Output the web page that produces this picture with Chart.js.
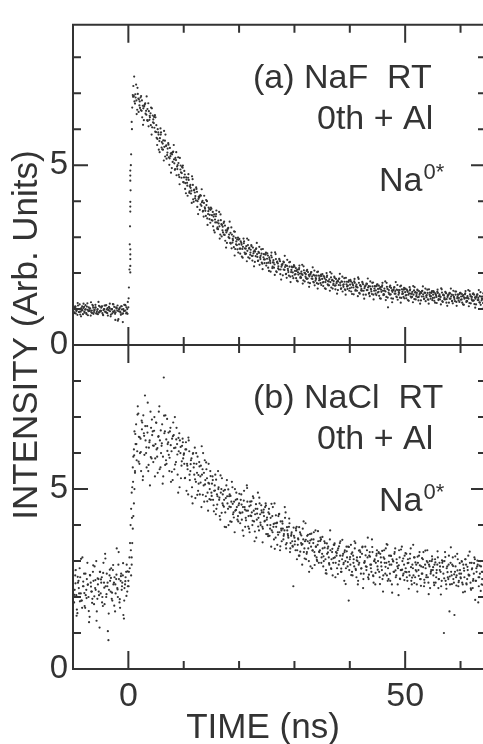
<!DOCTYPE html>
<html>
<head>
<meta charset="utf-8">
<script src="https://cdn.jsdelivr.net/npm/chart.js@4.4.1/dist/chart.umd.min.js"></script>
<style>
  html, body { margin: 0; padding: 0; background: #fff; overflow: hidden; }
  #wrap { width: 495px; height: 744px; }
</style>
</head>
<body>
<div id="wrap"><canvas id="chart"></canvas></div>
<script>
// three interleaved sweeps per panel: first channel (ns) of each and the channel width
const sweepStarts = [-10, -9.9, -9.95];
const timeStep = 0.2;

// (a) NaF RT, 0th + Al, Na0* intensity per channel
const nafSweep1 = [
  1.02,0.9,1.08,0.95,0.84,1.0,1.13,0.93,0.97,0.86,1.06,0.99,0.89,1.16,0.94,1.01,0.82,0.96,1.09,0.92,1.04,0.88,0.98,1.2,0.91,
  0.95,1.07,0.85,1.0,0.93,1.11,0.89,0.97,1.03,0.8,0.99,1.14,0.92,0.87,1.05,0.96,0.72,1.01,0.9,1.08,0.64,0.95,1.12,0.88,1.0,
  1.05,2.1,4.3,6.2,6.95,6.92,6.71,7.24,6.54,6.85,6.66,6.88,6.51,6.65,6.25,6.70,6.51,6.25,6.72,6.26,6.44,5.85,6.38,6.17,6.39,
  5.92,5.56,5.91,5.67,6.02,5.49,5.60,5.13,5.68,5.53,5.28,5.61,5.01,5.25,5.34,5.09,5.56,4.87,5.14,4.96,5.22,4.67,4.88,4.65,4.93,
  4.52,4.74,4.22,4.51,4.65,4.23,4.45,4.29,4.61,3.98,4.24,4.02,4.26,3.64,4.10,4.17,3.87,4.01,3.57,3.83,3.59,4.00,3.64,3.78,3.40,
  3.79,3.46,3.57,3.13,3.58,3.41,3.22,3.70,3.07,3.36,3.19,3.39,3.06,3.19,2.84,3.24,3.07,2.84,3.27,2.85,3.02,2.49,2.98,2.78,2.99,
  2.80,2.54,2.84,2.67,2.96,2.57,2.68,2.33,2.78,2.68,2.51,2.78,2.35,2.55,2.63,2.47,2.84,2.34,2.56,2.44,2.66,2.26,2.44,2.28,2.52,
  2.28,2.49,2.06,2.34,2.49,2.14,2.36,2.24,2.53,2.03,2.27,2.10,2.33,1.82,2.23,2.32,2.09,2.22,1.87,2.12,1.93,2.31,2.03,2.16,1.86,
  2.19,1.97,2.06,1.77,2.10,1.99,1.87,2.23,1.80,2.01,1.90,2.06,1.85,1.95,1.72,2.02,1.91,1.76,2.07,1.79,1.93,1.57,1.93,1.81,1.96,
  1.84,1.64,1.89,1.75,2.00,1.69,1.77,1.51,1.88,1.80,1.67,1.90,1.55,1.72,1.79,1.67,1.98,1.56,1.76,1.67,1.86,1.53,1.69,1.56,1.76,
  1.58,1.77,1.42,1.66,1.77,1.51,1.68,1.60,1.84,1.43,1.63,1.51,1.69,1.29,1.64,1.71,1.53,1.64,1.36,1.56,1.42,1.74,1.51,1.63,1.39,
  1.69,1.48,1.57,1.29,1.62,1.51,1.40,1.77,1.34,1.56,1.46,1.62,1.41,1.52,1.29,1.60,1.50,1.35,1.67,1.40,1.53,1.18,1.55,1.43,1.59,
  1.47,1.30,1.51,1.40,1.61,1.35,1.43,1.19,1.52,1.46,1.35,1.54,1.24,1.40,1.47,1.35,1.63,1.28,1.45,1.37,1.54,1.26,1.40,1.29,1.47,
  1.31,1.47,1.18,1.38,1.48,1.25,1.41,1.34,1.55,1.20,1.38,1.27,1.44,1.09,1.39,1.45,1.29,1.40,1.16,1.34,1.22,1.49,1.30,1.40,1.20,
  1.45,1.27,1.36,1.12,1.41,1.31,1.22,1.53,1.17,1.36,1.28,1.42,1.24,1.33,1.13,1.40,1.31,1.19,1.47,1.24,1.35,1.05,1.36,1.27,1.41
];
const nafSweep2 = [
  0.94,1.05,0.88,1.0,1.1,0.92,0.85,1.03,0.97,1.15,0.9,0.99,1.07,0.83,0.96,1.02,0.91,1.12,0.87,0.98,1.05,0.93,0.86,1.09,0.95,
  1.04,0.89,0.97,1.1,0.92,0.99,0.82,1.06,0.94,1.0,0.88,1.13,0.96,0.91,1.03,0.68,0.99,0.93,1.08,0.87,1.0,0.95,1.1,0.9,1.2,
  1.6,3.3,5.3,6.6,7.2,6.77,6.88,6.42,6.98,6.83,6.59,6.92,6.33,6.58,6.67,6.43,6.91,6.23,6.50,6.33,6.60,6.05,6.27,6.04,6.33,
  5.76,6.00,5.43,5.75,5.91,5.44,5.69,5.51,5.85,5.18,5.46,5.22,5.48,4.79,5.30,5.38,5.05,5.20,4.72,5.00,4.73,5.20,4.80,4.95,4.53,
  4.84,4.50,4.60,4.15,4.59,4.41,4.21,4.69,4.05,4.32,4.14,4.34,4.00,4.12,3.76,4.15,3.97,3.73,4.15,3.73,3.89,3.34,3.82,3.62,3.82,
  3.61,3.30,3.63,3.41,3.74,3.27,3.38,2.96,3.47,3.34,3.13,3.43,2.90,3.13,3.22,3.00,3.43,2.82,3.07,2.91,3.16,2.67,2.88,2.66,2.93,
  2.68,2.88,2.46,2.73,2.88,2.53,2.75,2.62,2.92,2.41,2.65,2.48,2.71,2.19,2.60,2.69,2.45,2.59,2.23,2.48,2.29,2.67,2.38,2.52,2.21,
  2.55,2.29,2.39,2.04,2.44,2.30,2.15,2.58,2.05,2.32,2.19,2.37,2.10,2.23,1.94,2.30,2.17,1.98,2.37,2.03,2.18,1.75,2.18,2.02,2.22,
  2.06,1.86,2.10,1.96,2.21,1.90,1.98,1.71,2.08,2.00,1.86,2.09,1.74,1.91,1.98,1.85,2.16,1.74,1.93,1.84,2.03,1.70,1.86,1.72,1.92,
  1.74,1.92,1.58,1.81,1.93,1.66,1.83,1.75,1.99,1.57,1.78,1.65,1.84,1.43,1.77,1.85,1.66,1.77,1.49,1.69,1.55,1.87,1.63,1.76,1.51,
  1.81,1.60,1.69,1.41,1.73,1.63,1.51,1.88,1.45,1.67,1.56,1.73,1.51,1.62,1.40,1.70,1.60,1.45,1.77,1.49,1.63,1.27,1.64,1.52,1.68,
  1.56,1.37,1.61,1.48,1.73,1.42,1.51,1.25,1.62,1.05,1.42,1.65,1.30,1.48,1.55,1.43,1.75,1.33,1.53,1.45,1.63,1.31,1.48,1.34,1.55,
  1.38,1.54,1.25,1.44,1.55,1.32,1.48,1.40,1.61,1.27,1.45,1.33,1.50,1.15,1.45,1.51,1.35,1.46,1.22,1.39,1.27,1.55,1.36,1.45,1.25,
  1.50,1.32,1.41,1.17,1.45,1.36,1.27,1.58,1.22,1.40,1.32,1.46,1.28,1.38,1.18,1.44,1.35,1.23,1.51,1.28,1.40,1.09,1.40,1.31,1.45,
  1.35,1.18,1.39,1.29,1.50,1.23,1.31,1.08,1.41,1.35,1.24,1.44,1.14,1.29,1.36,1.25,1.53,1.18,1.35,1.28,1.44,1.16,1.30,1.20,1.38
];
const nafSweep3 = [
  1.01,0.89,1.06,0.96,1.17,0.92,0.99,0.8,1.08,1.03,0.93,1.11,0.86,0.98,1.05,0.95,1.19,0.89,1.04,0.97,1.12,0.88,1.0,0.91,1.07,
  0.95,1.08,0.83,1.0,1.1,0.9,1.03,0.97,1.15,0.85,1.0,0.93,1.06,0.7,1.02,1.1,0.94,1.04,0.84,0.99,0.88,1.12,0.96,1.05,0.87,
  1.3,2.8,5.0,6.0,6.9,7.46,6.97,6.80,7.15,6.48,6.77,6.53,6.80,6.12,6.63,6.72,6.40,6.56,6.08,6.37,6.11,6.58,6.19,6.34,5.93,
  6.11,5.73,5.85,5.36,5.85,5.64,5.43,5.95,5.24,5.55,5.35,5.57,5.19,5.32,4.92,5.36,5.16,4.89,5.36,4.89,5.06,4.47,4.99,4.78,4.99,
  4.66,4.34,4.66,4.43,4.75,4.27,4.37,3.95,4.45,4.30,4.08,4.38,3.84,4.06,4.14,3.91,4.33,3.71,3.95,3.79,4.03,3.52,3.72,3.50,3.76,
  3.47,3.70,3.19,3.49,3.64,3.23,3.46,3.30,3.63,3.02,3.29,3.07,3.32,2.71,3.18,3.26,2.97,3.12,2.69,2.95,2.72,3.15,2.80,2.94,2.57,
  2.95,2.68,2.79,2.43,2.83,2.69,2.54,2.96,2.44,2.70,2.57,2.75,2.48,2.60,2.31,2.67,2.53,2.35,2.73,2.39,2.54,2.11,2.53,2.38,2.57,
  2.40,2.15,2.44,2.28,2.57,2.18,2.29,1.95,2.39,2.30,2.13,2.40,1.97,2.18,2.26,2.10,2.48,1.97,2.20,2.08,2.30,1.90,2.09,1.92,2.17,
  1.96,2.14,1.79,2.02,2.14,1.87,2.04,1.95,2.19,1.77,1.97,1.84,2.03,1.62,1.96,2.03,1.84,1.95,1.66,1.86,1.72,2.04,1.80,1.92,1.67,
  1.97,1.75,1.85,1.56,1.89,1.78,1.66,2.03,1.60,1.81,1.71,1.87,1.66,1.76,1.53,1.84,1.73,1.58,1.90,1.62,1.76,1.40,1.76,1.65,1.80,
  1.68,1.49,1.73,1.60,1.84,1.54,1.62,1.36,1.73,1.66,1.52,1.76,1.40,1.58,1.66,1.53,1.85,1.43,1.63,1.54,1.73,1.40,1.57,1.43,1.64,
  1.46,1.65,1.30,1.54,1.66,1.39,1.57,1.49,1.73,1.32,1.53,1.40,1.59,1.19,1.53,1.61,1.43,1.54,1.26,1.47,1.32,1.65,1.42,1.54,1.30,
  1.57,1.39,1.48,1.23,1.52,1.43,1.34,1.64,1.28,1.47,1.39,1.52,1.34,1.44,1.24,1.50,1.41,1.29,1.57,1.33,1.45,1.15,1.46,1.36,1.50,
  1.40,1.23,1.44,1.34,1.54,1.28,1.36,1.13,1.46,1.39,1.28,1.48,1.18,1.34,1.41,1.29,1.57,1.22,1.39,1.32,1.49,1.20,1.34,1.24,1.42,
  1.26,1.42,1.13,1.33,1.44,1.20,1.36,1.29,1.50,1.16,1.34,1.23,1.40,1.04,1.34,1.41,1.25,1.36,1.12,1.30,1.17,1.45,1.26,1.36,1.16
];
// extra counts stacked on the rising edge of (a)
const nafRiseTimes  = [0.35, 0.35, 0.35, 0.35, 0.35, 0.35, 0.35, 0.35, 0.35, 0.35, 0.35];
const nafRiseValues = [4.85, 4.71, 4.57, 3.98, 3.85, 3.71, 2.66, 2.52, 2.39, 2.2, 2.02];

// (b) NaCl RT, 0th + Al, Na0* intensity per channel
const naclSweep1 = [
  2.35,1.85,2.6,2.05,1.55,2.45,2.8,2.1,1.9,2.3,2.65,1.7,2.2,2.95,2.0,1.45,2.4,2.15,2.7,1.8,2.25,3.0,1.95,2.5,1.15,
  2.1,2.55,1.75,2.4,3.2,2.0,2.3,0.8,2.6,2.15,1.95,2.75,2.4,1.6,2.5,2.25,2.9,1.85,2.45,2.2,2.6,1.4,2.35,2.7,2.15,
  2.45,3.1,4.0,4.9,5.6,6.1,5.45,6.8,6.05,7.1,5.7,6.4,6.9,5.25,6.55,7.6,6.0,6.75,5.5,6.3,7.15,5.85,6.6,6.2,5.35,
  6.85,5.9,6.45,7.3,5.6,6.2,5.15,8.1,6.6,5.8,6.95,6.3,5.5,6.7,6.05,5.25,6.5,7.0,5.75,6.25,4.9,6.55,6.0,5.65,6.4,
  5.95,5.3,6.3,5.7,4.85,6.05,5.5,5.85,4.6,5.6,6.15,5.2,5.45,4.95,5.75,5.35,4.5,5.55,5.1,5.8,4.8,5.3,4.4,5.15,5.5,
  4.9,5.35,4.55,5.1,4.3,4.85,5.5,4.7,4.15,5.0,4.6,4.95,3.95,4.75,5.25,4.45,4.8,4.1,4.65,5.05,4.35,3.8,4.7,4.5,4.25,
  4.6,4.05,4.85,4.35,3.7,4.5,4.2,5.1,4.4,3.9,4.65,4.25,4.0,4.75,3.55,4.45,4.15,4.9,3.85,4.3,4.55,3.95,4.35,4.1,4.6,
  4.15,3.75,4.45,3.9,3.4,4.25,3.95,4.6,3.65,4.05,3.8,4.3,3.3,3.9,4.1,3.6,3.85,4.35,3.5,3.75,3.95,3.25,3.7,3.55,2.3,
  3.65,3.3,3.95,3.45,3.15,3.8,3.5,2.9,3.6,3.35,4.05,3.2,3.55,3.0,3.75,3.4,2.8,3.5,3.25,3.85,3.1,3.45,2.95,3.3,3.6,
  3.2,2.85,3.55,3.05,2.65,3.35,3.1,3.6,2.8,3.25,2.95,3.45,2.55,3.15,3.3,2.9,3.5,2.7,3.05,3.2,2.45,3.0,3.4,2.85,1.9,
  3.05,3.45,2.7,3.15,2.85,3.5,2.55,3.0,2.9,3.3,2.65,3.2,2.25,2.95,3.4,2.75,3.1,2.5,3.25,2.8,3.6,2.6,3.0,2.35,3.15,
  2.85,3.25,2.55,3.1,2.75,2.15,3.3,2.65,2.95,3.45,2.5,2.9,3.15,2.35,3.0,2.7,3.35,2.6,2.85,2.05,3.1,2.75,3.4,2.6,2.9,
  2.7,3.2,2.45,2.95,2.6,3.35,2.35,2.8,3.1,2.55,2.9,2.15,2.75,3.25,2.5,2.65,3.05,2.3,2.9,2.55,3.3,2.4,2.85,2.65,3.0,
  2.75,2.4,3.05,2.55,2.9,2.25,2.95,2.7,2.45,3.0,1.0,3.25,2.35,2.85,2.5,1.6,2.95,2.6,3.1,2.4,2.7,2.55,3.2,2.3,2.65,
  2.55,3.0,2.35,2.8,2.15,2.9,2.5,3.15,2.6,2.4,2.95,2.25,2.65,3.05,2.45,2.85,1.85,2.55,3.0,2.35,2.7,2.5,3.1,2.3,2.75
];
const naclSweep2 = [
  2.0,2.2,2.75,1.65,2.4,2.1,2.55,1.9,3.1,2.3,1.75,2.05,2.5,2.35,1.3,2.6,2.15,1.95,2.45,2.85,2.2,1.6,2.35,2.05,2.7,
  2.4,2.0,2.95,1.8,2.3,2.65,1.05,2.2,2.45,2.8,1.9,2.35,2.55,2.1,3.35,2.0,2.5,1.7,2.65,2.4,1.5,2.25,2.55,2.9,2.3,
  2.7,3.5,4.45,5.05,5.9,6.6,6.25,5.8,7.3,6.45,6.0,5.5,6.85,7.05,5.95,6.35,5.6,7.4,6.15,5.1,6.7,6.5,5.75,7.0,6.25,
  6.1,5.45,7.15,6.35,6.0,6.8,5.35,6.55,7.05,5.7,6.25,5.95,6.6,5.2,6.4,6.85,5.55,6.15,6.7,5.4,6.05,6.35,5.3,6.2,5.85,
  5.7,6.1,4.95,5.55,6.35,5.25,5.8,5.05,6.0,5.4,4.75,5.7,5.9,5.15,4.85,5.65,5.4,6.0,4.65,5.25,5.55,4.9,5.7,5.0,4.7,
  5.15,4.7,4.95,5.4,4.45,4.8,5.05,4.25,4.9,5.3,4.55,4.7,4.35,5.1,4.6,4.0,4.85,4.5,5.2,4.3,4.65,4.4,4.9,4.15,4.55,
  4.35,4.7,4.15,4.5,4.95,3.95,4.4,4.65,4.25,3.8,4.55,4.35,4.8,4.1,4.3,3.65,4.45,4.2,4.6,4.0,4.35,3.9,4.25,4.5,3.75,
  4.0,4.35,3.7,4.2,3.85,4.5,3.6,4.05,3.95,3.45,4.25,3.8,4.1,3.55,3.9,3.75,4.2,3.35,3.85,3.65,4.05,3.5,3.8,3.4,3.7,
  3.55,3.85,3.3,3.6,3.15,3.75,3.45,3.9,3.25,3.55,3.05,3.7,3.35,3.5,2.85,3.6,3.3,3.8,3.15,3.4,3.0,3.55,3.25,3.65,3.1,
  3.35,3.0,3.5,2.75,3.2,3.4,2.9,3.3,3.05,2.6,3.45,3.1,3.25,2.8,3.35,3.0,3.55,2.7,3.15,2.95,3.3,2.8,3.1,3.4,2.75,
  2.9,3.2,2.6,3.05,3.35,2.75,3.1,2.45,2.95,3.25,2.8,3.4,2.65,3.0,2.85,3.3,2.55,3.15,2.9,2.7,3.25,2.4,3.05,2.95,3.3,
  3.0,2.7,3.2,2.85,2.5,3.1,2.95,3.35,2.6,2.8,3.15,2.45,2.9,3.05,2.7,3.25,2.55,2.95,2.8,3.3,2.5,2.75,3.0,2.65,3.15,
  2.8,2.55,3.05,2.7,3.2,2.45,2.9,2.6,3.1,2.75,2.35,2.95,3.15,2.5,2.85,2.65,3.25,2.4,2.8,3.0,2.55,2.9,2.25,2.75,3.05,
  2.6,2.9,2.4,2.75,3.1,2.5,2.85,2.3,2.95,2.65,3.0,2.45,2.8,2.55,3.15,2.35,2.7,2.9,2.5,1.5,2.85,2.6,3.05,2.45,2.75,
  2.65,2.4,2.9,2.55,3.05,2.35,2.75,2.6,2.95,2.2,2.8,2.5,3.1,2.45,2.7,2.9,2.3,2.65,2.85,2.5,3.0,2.4,2.7,2.55,2.8
];
const naclSweep3 = [
  2.74,2.06,2.38,1.48,2.56,2.25,1.88,3.06,1.70,2.43,2.11,2.65,1.97,2.34,1.61,2.61,2.29,1.84,2.88,2.02,2.47,1.34,2.52,2.15,2.70,
  2.49,1.85,2.67,2.26,3.07,2.08,2.40,1.54,2.76,2.53,2.12,2.89,1.76,2.35,2.62,2.21,3.25,1.94,2.58,2.30,2.94,1.90,2.44,2.03,2.71,
  2.3,2.8,3.3,4.2,5.2,5.94,6.53,6.25,7.07,5.76,6.44,6.03,6.66,5.35,6.48,6.75,6.16,6.57,5.67,6.35,5.89,6.93,6.21,6.62,5.85,
  6.84,6.14,6.47,5.55,6.63,6.27,5.90,7.04,5.67,6.38,6.06,6.57,5.87,6.22,5.48,6.47,6.14,5.68,6.38,5.96,6.42,5.05,6.17,5.77,6.30,
  5.99,5.31,6.10,5.65,6.43,5.40,5.69,4.79,5.98,5.71,5.27,6.00,4.84,5.39,5.63,5.18,6.19,4.84,5.45,5.13,5.74,4.66,5.17,4.72,5.36,
  4.81,5.25,4.38,4.96,5.26,4.57,5.00,4.76,5.38,4.34,4.85,4.51,4.98,3.94,4.80,4.99,4.51,4.81,4.09,4.59,4.21,5.00,4.42,4.72,4.10,
  4.87,4.33,4.57,3.85,4.68,4.43,4.13,5.03,3.96,4.52,4.26,4.66,4.12,4.40,3.82,4.58,4.32,3.96,4.76,4.07,4.41,3.52,4.43,4.12,4.54,
  4.21,3.69,4.31,4.00,4.59,3.80,4.03,3.34,4.27,4.07,3.73,4.31,3.41,3.85,4.04,3.70,4.50,3.46,3.94,3.70,4.18,3.35,3.75,3.42,3.93,
  3.46,3.91,3.05,3.63,3.94,3.26,3.71,3.47,4.10,3.07,3.59,3.25,3.73,2.70,3.57,3.76,3.29,3.60,2.89,3.40,3.03,3.83,3.26,3.56,2.95,
  3.67,3.13,3.37,2.66,3.49,3.24,2.94,3.85,2.78,3.34,3.08,3.49,2.95,3.22,2.64,3.41,3.15,2.79,3.59,2.91,3.25,2.36,3.27,2.97,3.39,
  3.11,2.61,3.24,2.95,3.55,2.78,3.02,2.35,3.29,3.11,2.79,3.38,2.50,2.96,3.16,2.84,3.65,2.62,3.12,2.90,3.39,2.58,3.00,2.67,3.20,
  2.76,3.22,2.36,2.96,3.28,2.60,3.06,2.84,3.47,2.45,2.98,2.65,3.14,2.12,2.99,3.20,2.74,3.05,2.35,2.88,2.51,3.32,2.76,3.07,2.47,
  3.22,2.69,2.94,2.23,3.07,2.83,2.54,3.45,2.39,2.96,2.71,3.12,2.59,2.88,2.31,3.08,2.83,2.48,3.29,2.61,2.96,2.08,3.00,2.70,3.13,
  2.83,2.33,2.96,2.67,3.27,2.50,2.75,2.07,3.02,2.84,2.52,3.11,2.23,2.69,2.90,2.57,3.38,2.36,2.86,2.63,3.13,2.32,2.74,2.41,2.94,
  2.52,2.98,2.13,2.73,3.05,2.38,2.84,2.62,3.26,2.24,2.77,2.45,2.94,1.92,2.80,3.01,2.55,2.87,2.17,2.70,2.34,3.15,2.59,2.91,2.31
];
const naclRiseTimes  = [0.5, 0.6, 0.7, 0.8, 0.9, 1.0, 1.1, 1.2, 0.6];
const naclRiseValues = [2.6, 3.1, 3.5, 3.9, 4.25, 4.6, 5.0, 5.5, 2.9];

const xTickLabels = [0, 50];
const xMinorTicks = [10, 20, 30, 40, 60];
const yTickLabels = [0, 5];
const yMinorTicks = [1, 2, 3, 4, 6, 7, 8];
const panelLabels = [['(a) NaF  RT', '0th + Al'], ['(b) NaCl  RT', '0th + Al']];

const ink = '#333333';
const family = '"Liberation Sans", Arial, Helvetica, sans-serif';

function sweep(values, start) {
  return values.map((v, i) => ({ x: start + i * timeStep, y: v }));
}
function toPoints(times, values) {
  return values.map((v, i) => ({ x: times[i], y: v }));
}

// box, tick marks, panel captions and the axis titles
const framePlugin = {
  id: 'frame',
  afterDraw(chart) {
    const ctx = chart.ctx;
    const x = chart.scales.x, yA = chart.scales.yA, yB = chart.scales.yB;
    const left = x.left, right = x.right;
    const top = yA.top, mid = yA.bottom, bottom = yB.bottom;
    ctx.save();
    ctx.strokeStyle = ink;
    ctx.lineWidth = 2;
    ctx.beginPath();
    ctx.moveTo(left, top - 1); ctx.lineTo(left, bottom + 1);
    ctx.moveTo(right, top - 1); ctx.lineTo(right, bottom + 1);
    [top, mid, bottom].forEach(y => { ctx.moveTo(left, y); ctx.lineTo(right, y); });
    const xTick = (v, len) => {
      const px = x.getPixelForValue(v);
      ctx.moveTo(px, top); ctx.lineTo(px, top + len);
      ctx.moveTo(px, mid - len); ctx.lineTo(px, mid + len);
      ctx.moveTo(px, bottom - len); ctx.lineTo(px, bottom);
    };
    xTickLabels.forEach(v => xTick(v, 18));
    xMinorTicks.forEach(v => xTick(v, 8));
    [yA, yB].forEach(s => {
      const yTick = (v, len) => {
        const py = s.getPixelForValue(v);
        ctx.moveTo(left, py); ctx.lineTo(left + len, py);
        ctx.moveTo(right, py); ctx.lineTo(right - len, py);
      };
      yTickLabels.filter(v => v > 0).forEach(v => yTick(v, 15));
      yMinorTicks.forEach(v => yTick(v, 8));
    });
    ctx.stroke();

    ctx.fillStyle = ink;
    ctx.textAlign = 'left';
    ctx.textBaseline = 'alphabetic';
    [yA, yB].forEach((s, i) => {
      const t = s.top;
      ctx.font = '34px ' + family;
      ctx.fillText(panelLabels[i][0], 253, t + 63);
      ctx.fillText(panelLabels[i][1], 317, t + 104);
      ctx.fillText('Na', 379, t + 166);
      const w = ctx.measureText('Na').width;
      ctx.font = '22px ' + family;
      ctx.fillText('0*', 379 + w + 1, t + 154);
    });

    ctx.textAlign = 'center';
    ctx.font = '35px ' + family;
    ctx.fillText('TIME (ns)', 263, 738);

    ctx.translate(37, 335);
    ctx.rotate(-Math.PI / 2);
    ctx.fillText('INTENSITY (Arb. Units)', 0, 0);
    ctx.restore();
  }
};

const yAxis = (max) => ({
  type: 'linear',
  position: 'left',
  stack: 'panels',
  stackWeight: max,
  min: 0,
  max: max,
  grid: { display: false, drawTicks: false },
  border: { display: false },
  afterBuildTicks: s => { s.ticks = yTickLabels.map(v => ({ value: v })); },
  afterFit: s => { s.width = 73; },
  ticks: { color: ink, font: { size: 33, family: family }, padding: 5 }
});

const dotStyle = { backgroundColor: ink, borderColor: ink, borderWidth: 0, pointRadius: 1.1 };

const nafSweeps = [nafSweep1, nafSweep2, nafSweep3];
const naclSweeps = [naclSweep1, naclSweep2, naclSweep3];
const datasets = [];
nafSweeps.forEach((s, k) => datasets.push({ label: 'NaF ' + (k + 1), data: sweep(s, sweepStarts[k]), yAxisID: 'yA', ...dotStyle }));
datasets.push({ label: 'NaF rise', data: toPoints(nafRiseTimes, nafRiseValues), yAxisID: 'yA', ...dotStyle });
naclSweeps.forEach((s, k) => datasets.push({ label: 'NaCl ' + (k + 1), data: sweep(s, sweepStarts[k]), yAxisID: 'yB', ...dotStyle }));
datasets.push({ label: 'NaCl rise', data: toPoints(naclRiseTimes, naclRiseValues), yAxisID: 'yB', ...dotStyle });

new Chart(document.getElementById('chart'), {
  type: 'scatter',
  data: { datasets: datasets },
  options: {
    responsive: true,
    maintainAspectRatio: false,
    devicePixelRatio: 1,
    animation: false,
    events: [],
    layout: { padding: { top: 14, right: 9, left: 0, bottom: 0 } },
    plugins: { legend: { display: false }, tooltip: { enabled: false }, colors: { enabled: false } },
    scales: {
      x: {
        type: 'linear',
        position: 'bottom',
        min: -10,
        max: 64.6,
        grid: { display: false, drawTicks: false },
        border: { display: false },
        afterBuildTicks: s => { s.ticks = xTickLabels.map(v => ({ value: v })); },
        afterFit: s => { s.height = 75; },
        ticks: { color: ink, font: { size: 34, family: family }, padding: 7, maxRotation: 0, autoSkip: false }
      },
      // defined first so the layout puts it in the lower slot of the stack
      yB: yAxis(9),
      yA: yAxis(8.9)
    }
  },
  plugins: [framePlugin]
});
</script>
</body>
</html>
